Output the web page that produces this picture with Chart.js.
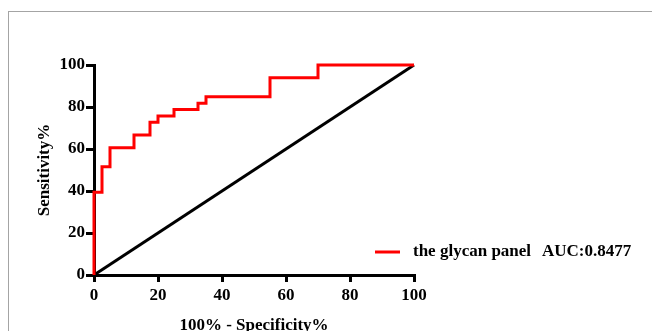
<!DOCTYPE html>
<html lang="en">
<head>
    <meta charset="UTF-8">
    <title>ROC curve - glycan panel</title>
    <script src="https://cdn.jsdelivr.net/npm/chart.js@4.4.1/dist/chart.umd.min.js"></script>
    <style>
        html, body { margin: 0; padding: 0; background: #fff; overflow: hidden; }
        .frame {
            position: absolute; left: 8px; top: 11px; width: 700px; height: 400px;
            border-top: 1px solid #a4a4a4; border-left: 1px solid #a4a4a4;
        }
        .chart-box { position: absolute; left: 0; top: 0; width: 652px; height: 340px; }
    </style>
</head>
<body>
    <div class="frame"></div>
    <div class="chart-box">
        <canvas id="rocChart"></canvas>
    </div>

    <script>
        // ROC points (100% - specificity, sensitivity)
        const fpr = [0, 0, 2.5, 5, 12.5, 17.5, 20, 25, 32.5, 35, 55, 70, 100];
        const sensitivity = [0, 39.39, 51.52, 60.61, 66.67, 72.73, 75.76, 78.79, 81.82, 84.85, 93.94, 100, 100];
        // reference (chance) line
        const refX = [0, 100];
        const refY = [0, 100];
        const axisTicks = [0, 20, 40, 60, 80, 100];
        const seriesName = 'the glycan panel';
        const aucText = 'AUC:0.8477';

        const serif = "'Liberation Serif', 'Times New Roman', serif";
        const tickFont = { family: serif, size: 17, weight: 'bold' };

        // legend drawn at the lower right, like the original figure
        const legendPlugin = {
            id: 'rocLegend',
            afterDraw(chart) {
                const ctx = chart.ctx;
                ctx.save();
                ctx.strokeStyle = '#ff0000';
                ctx.lineWidth = 3;
                ctx.beginPath();
                ctx.moveTo(375, 252);
                ctx.lineTo(400, 252);
                ctx.stroke();
                ctx.fillStyle = '#000';
                ctx.font = 'bold 17px ' + serif;
                ctx.textBaseline = 'middle';
                ctx.textAlign = 'left';
                ctx.fillText(chart.data.datasets[0].label, 413, 252);
                ctx.fillText(aucText, 542, 252);
                ctx.restore();
            }
        };

        const ctx = document.getElementById('rocChart').getContext('2d');
        const rocChart = new Chart(ctx, {
            type: 'line',
            data: {
                datasets: [{
                    label: seriesName,
                    data: fpr.map((x, i) => ({ x: x, y: sensitivity[i] })),
                    borderColor: '#ff0000',
                    borderWidth: 3,
                    stepped: 'before',
                    pointRadius: 0,
                    fill: false,
                    clip: 6,
                    order: 0
                }, {
                    label: 'reference',
                    data: refX.map((x, i) => ({ x: x, y: refY[i] })),
                    borderColor: '#000000',
                    borderWidth: 3,
                    pointRadius: 0,
                    fill: false,
                    clip: 6,
                    order: 1
                }]
            },
            options: {
                responsive: true,
                maintainAspectRatio: false,
                animation: false,
                layout: { padding: { left: 0, top: 65, right: 238, bottom: 0 } },
                plugins: {
                    legend: { display: false },
                    tooltip: { enabled: false }
                },
                scales: {
                    x: {
                        type: 'linear',
                        min: 0,
                        max: 100,
                        afterBuildTicks: s => { s.ticks = axisTicks.map(v => ({ value: v })); },
                        afterFit: s => { s.height = 65; },
                        grid: { drawOnChartArea: false, drawTicks: true, tickLength: 7, color: '#000', lineWidth: 3 },
                        border: { display: true, color: '#000', width: 3 },
                        ticks: { color: '#000', font: tickFont, padding: 3, maxRotation: 0 },
                        title: {
                            display: true,
                            text: '100% - Specificity%',
                            color: '#000',
                            font: tickFont,
                            padding: { top: 0, bottom: 4 }
                        }
                    },
                    y: {
                        type: 'linear',
                        min: 0,
                        max: 100,
                        afterBuildTicks: s => { s.ticks = axisTicks.map(v => ({ value: v })); },
                        afterFit: s => { s.width = 94; },
                        grid: { drawOnChartArea: false, drawTicks: true, tickLength: 8, color: '#000', lineWidth: 3 },
                        border: { display: true, color: '#000', width: 3 },
                        ticks: { color: '#000', font: tickFont, padding: 1 },
                        title: {
                            display: true,
                            text: 'Sensitivity%',
                            color: '#000',
                            font: tickFont,
                            padding: { top: 34, bottom: 0 }
                        }
                    }
                }
            },
            plugins: [legendPlugin]
        });
    </script>
</body>
</html>
